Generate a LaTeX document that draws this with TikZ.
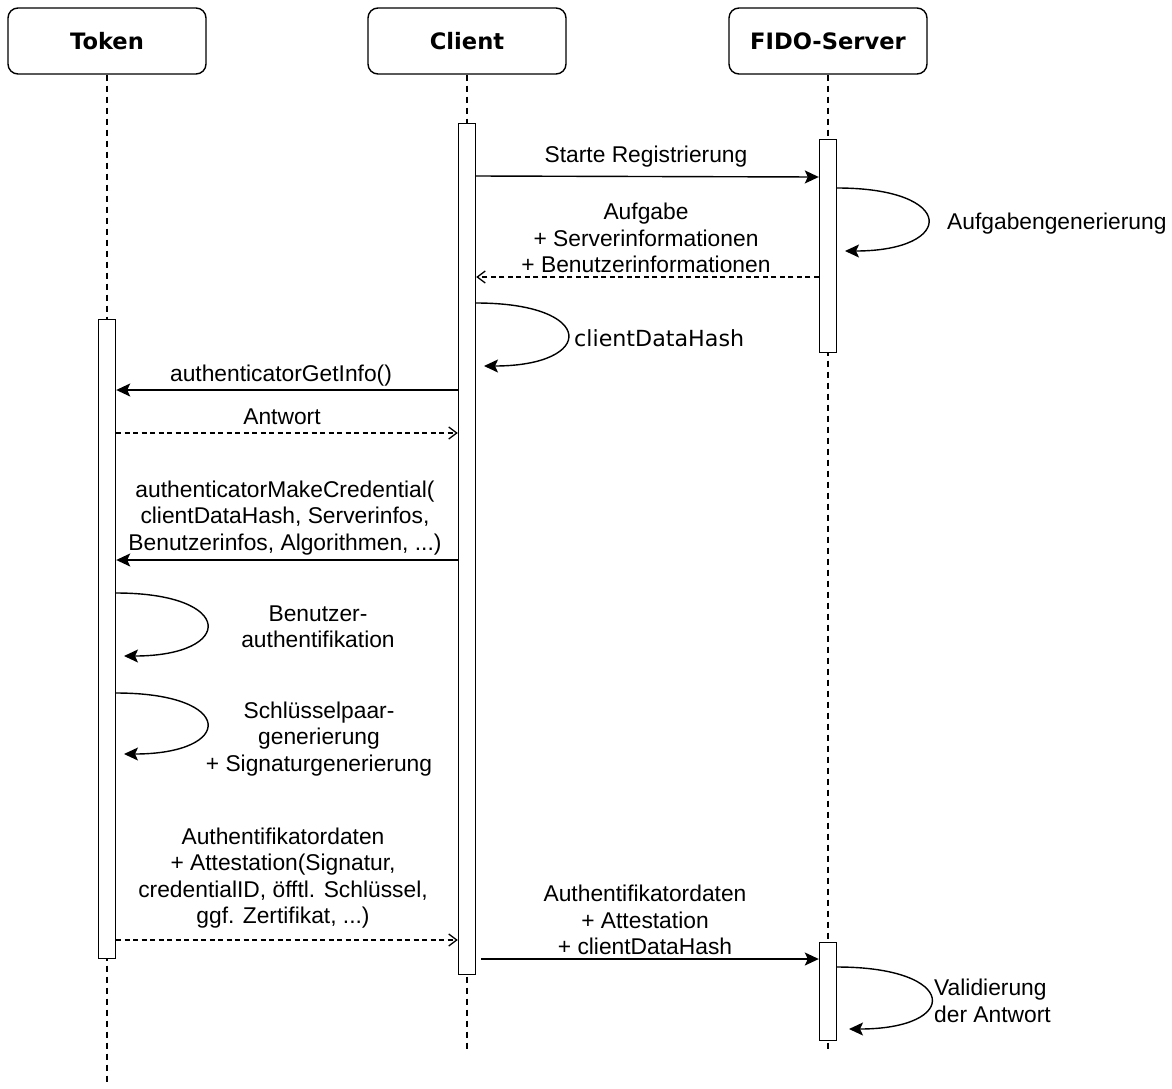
\documentclass[tikz,border=0pt]{standalone}
\usepackage{fontspec}
\setmainfont{Liberation Sans}
\newfontfamily\verd{DejaVu Sans}
\usetikzlibrary{arrows.meta}

\tikzset{
  head/.style={draw, line width=1.4pt, rounded corners=10pt, fill=white,
    minimum width=198pt, minimum height=66pt,
    font=\verd\bfseries\fontsize{22.6}{26}\selectfont},
  life/.style={line width=1.3pt, dash pattern=on 6pt off 5pt},
  actbar/.style={draw, line width=1.4pt, fill=white, minimum width=17pt,
    inner sep=0pt, anchor=north},
  sync/.style={line width=1.4pt, -{Stealth[length=14pt,width=13pt,inset=3pt]}},
  reply/.style={line width=1.3pt, dash pattern=on 5pt off 3.5pt,
    -{Straight Barb[length=8pt,width=12pt]}},
  lbl/.style={align=center, inner sep=0pt,
    font=\fontsize{22.8}{26.5}\selectfont},
  lbll/.style={lbl, align=left, anchor=west},
}

\begin{document}
\begin{tikzpicture}[x=1pt,y=-1pt]
\useasboundingbox (0,0) rectangle (1172,1088);

% participants
\node[head] (token)  at (107,41) {Token};
\node[head] (client) at (467,41) {Client};
\node[head] (server) at (828,41) {FIDO-Server};

% lifeline ends
\coordinate (tokenend)  at (107,1086);
\coordinate (clientend) at (467,1052);
\coordinate (serverend) at (828,1052);
\draw[life] (token.south)  -- (tokenend);
\draw[life] (client.south) -- (clientend);
\draw[life] (server.south) -- (serverend);

% activation bars
\node[actbar, minimum height=851pt] (cact)  at (467,123) {};
\node[actbar, minimum height=213pt] (sact1) at (828,139) {};
\node[actbar, minimum height=639pt] (tact)  at (107,319) {};
\node[actbar, minimum height=98pt]  (sact2) at (828,942) {};

% loop end points
\coordinate (l1e) at (845,251);
\coordinate (l2e) at (484,366);
\coordinate (l3e) at (124,656);
\coordinate (l4e) at (124,754);
\coordinate (l5e) at (849,1029);
\coordinate (m11a) at (481,959);

% registration request
\draw[sync] (cact.east |- 0,176) -- (sact1.west |- 0,177);
\node[lbl] (t1) at (646,157) {Starte Registrierung};

% challenge generation
\draw[sync] (sact1.east |- 0,188) .. controls +(120,0) and +(111,0) .. (l1e);
\node[lbll] (t2) at (947,224) {Aufgabengenerierung};

% challenge reply
\draw[reply] (sact1.west |- 0,277) -- (cact.east |- 0,277);
\node[lbl] (t3) at (646,238) {Aufgabe\\+ Serverinformationen\\+ Benutzerinformationen};

% client data hash
\draw[sync] (cact.east |- 0,303) .. controls +(121,0) and +(112,0) .. (l2e);
\node[lbll, font=\verd\fontsize{22.2}{26}\selectfont] (t4) at (574,338) {clientDataHash};

% get info
\draw[sync] (cact.west |- 0,390) -- (tact.east |- 0,390);
\node[lbl] (t5) at (281,376) {authenticatorGetInfo()};
\draw[reply] (tact.east |- 0,433) -- (cact.west |- 0,433);
\node[lbl] (t6) at (282,417) {Antwort};

% make credential
\draw[sync] (cact.west |- 0,560) -- (tact.east |- 0,560);
\node[lbl] (t7) at (285,518) {authenticatorMakeCredential(\\clientDataHash, Serverinfos,\\Benutzerinfos, Algorithmen, ...)};

% token internal steps
\draw[sync] (tact.east |- 0,593) .. controls +(120,0) and +(111,0) .. (l3e);
\node[lbl] (t8) at (318,627) {Benutzer-\\authentifikation};
\draw[sync] (tact.east |- 0,693) .. controls +(120,0) and +(111,0) .. (l4e);
\node[lbl] (t9) at (319,739) {Schlüsselpaar-\\generierung\\+ Signaturgenerierung};

% attestation reply
\draw[reply] (tact.east |- 0,940) -- (cact.west |- 0,940);
\node[lbl] (t10) at (283,878) {Authentifikatordaten\\+ Attestation(Signatur,\\credentialID, öfftl. Schlüssel,\\ggf. Zertifikat, ...)};

% forward to server
\draw[sync] (m11a) -- (sact2.west |- 0,959);
\node[lbl] (t11) at (645,920) {Authentifikatordaten\\+ Attestation\\+ clientDataHash};

% validation
\draw[sync] (sact2.east |- 0,967) .. controls +(122,0) and +(112,0) .. (l5e);
\node[lbll] (t12) at (934,1001) {Validierung\\der Antwort};

\end{tikzpicture}
\end{document}
